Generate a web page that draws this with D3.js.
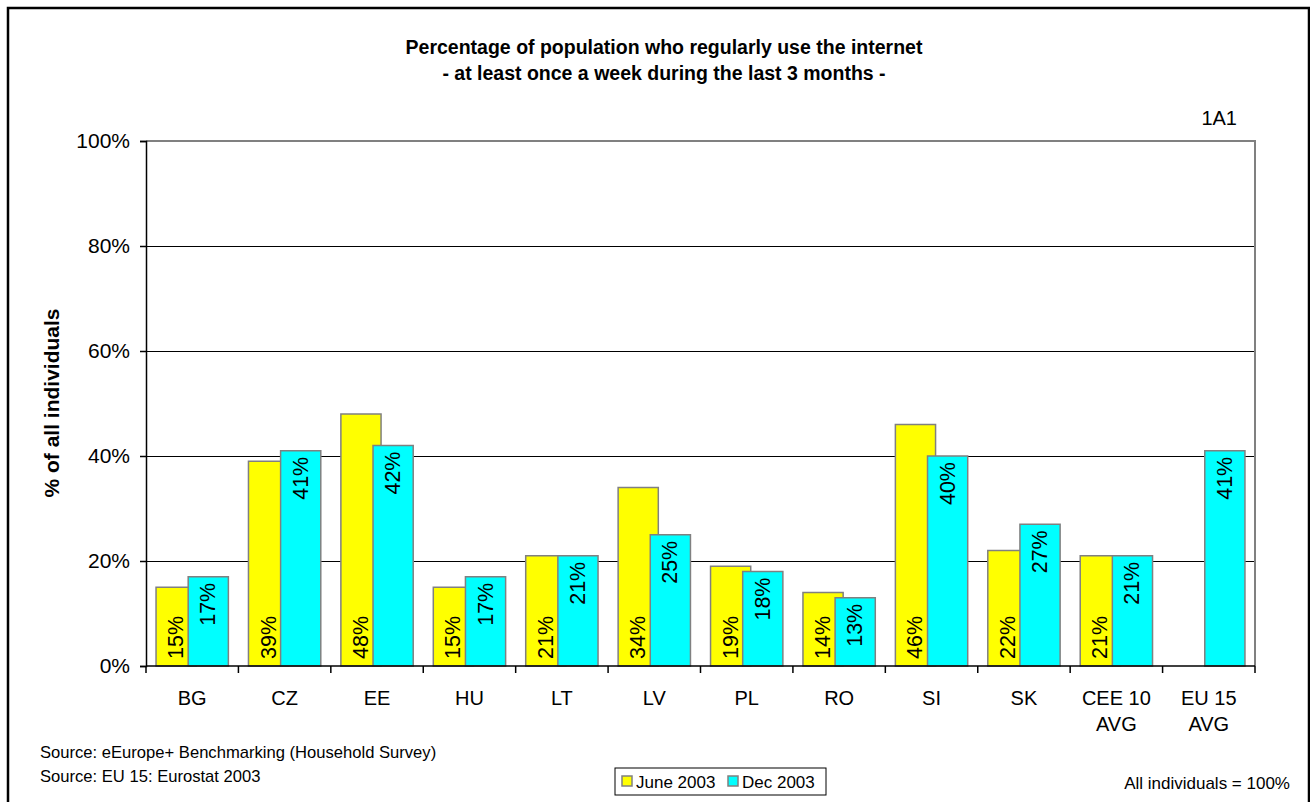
<!DOCTYPE html>
<html>
<head>
<meta charset="utf-8">
<script src="https://cdn.jsdelivr.net/npm/d3@7"></script>
<style>
  html, body { margin: 0; padding: 0; background: #fff; }
  svg { display: block; font-family: "Liberation Sans", Arial, sans-serif; }
</style>
</head>
<body>
<svg id="chart" width="1310" height="802"></svg>
<script>
// Internet usage, share of all individuals (%)
const categories = ["BG", "CZ", "EE", "HU", "LT", "LV", "PL", "RO", "SI", "SK", "CEE 10\nAVG", "EU 15\nAVG"];
const june2003 = [15, 39, 48, 15, 21, 34, 19, 14, 46, 22, 21, null];
const dec2003  = [17, 41, 42, 17, 21, 25, 18, 13, 40, 27, 21, 41];
const seriesNames = ["June 2003", "Dec 2003"];
const seriesColors = ["#ffff00", "#00ffff"];
const yTicks = [0, 20, 40, 60, 80, 100];

const titleLines = [
  "Percentage of population who regularly use the internet",
  "- at least once a week during the last 3 months -"
];
const sourceLines = [
  "Source: eEurope+ Benchmarking (Household Survey)",
  "Source: EU 15: Eurostat 2003"
];

const svg = d3.select("#chart");
const plot = { left: 146, right: 1255, top: 141, bottom: 666 };

// outer frame
svg.append("rect")
  .attr("x", 8).attr("y", 8)
  .attr("width", 1301).attr("height", 820)
  .attr("fill", "#fff").attr("stroke", "#000").attr("stroke-width", 2.5);

// title
svg.append("g").selectAll("text").data(titleLines).join("text")
  .attr("x", 664).attr("y", (d, i) => 54 + i * 26)
  .attr("text-anchor", "middle")
  .attr("font-size", 19.5).attr("font-weight", "bold")
  .text(d => d);

svg.append("text")
  .attr("x", 1237).attr("y", 125)
  .attr("text-anchor", "end").attr("font-size", 20)
  .text("1A1");

const x = d3.scaleBand().domain(categories).range([plot.left, plot.right]).padding(0);
const y = d3.scaleLinear().domain([0, 100]).range([plot.bottom, plot.top]);

// bar geometry: gap width 50%, overlap 20% of a bar
const bw = x.bandwidth() / 2.3;
const barX = (c, s) => x(c) + 0.25 * bw + s * 0.8 * bw;

// gridlines
svg.append("g").selectAll("line").data(yTicks.filter(t => t > 0 && t < 100)).join("line")
  .attr("x1", plot.left).attr("x2", plot.right)
  .attr("y1", d => y(d) + 0.5).attr("y2", d => y(d) + 0.5)
  .attr("stroke", "#000").attr("stroke-width", 1)
  .attr("shape-rendering", "crispEdges");

// plot frame (top and right)
svg.append("path")
  .attr("d", `M${plot.left},${y(100)}H${plot.right}V${plot.bottom}`)
  .attr("fill", "none").attr("stroke", "#808080").attr("stroke-width", 2);

// bars
const series = [june2003, dec2003];
series.forEach((vals, s) => {
  const g = svg.append("g");
  g.selectAll("rect").data(categories.map((c, i) => ({ c, v: vals[i] })).filter(d => d.v != null))
    .join("rect")
    .attr("x", d => barX(d.c, s))
    .attr("y", d => y(d.v))
    .attr("width", bw)
    .attr("height", d => y(0) - y(d.v))
    .attr("fill", seriesColors[s])
    .attr("stroke", "#808080").attr("stroke-width", 1.5);
});

// value labels, rotated: June at the base, Dec at the top
series.forEach((vals, s) => {
  svg.append("g").selectAll("text")
    .data(categories.map((c, i) => ({ c, v: vals[i] })).filter(d => d.v != null))
    .join("text")
    .attr("transform", d => {
      const cx = barX(d.c, s) + bw / 2;
      const cy = s === 0 ? y(0) - 7 : y(d.v) + 6;
      return `translate(${cx},${cy}) rotate(-90)`;
    })
    .attr("text-anchor", s === 0 ? "start" : "end")
    .attr("dominant-baseline", "central")
    .attr("font-size", 21.5)
    .text(d => d.v + "%");
});

// y axis
const yAxis = d3.axisLeft(y).tickValues(yTicks).tickSize(6).tickPadding(10).tickFormat(d => d + "%");
const ya = svg.append("g").attr("transform", `translate(${plot.left},0)`).call(yAxis);
ya.select(".domain").attr("stroke", "#000").attr("stroke-width", 1.5);
ya.selectAll(".tick line").attr("stroke", "#000").attr("stroke-width", 1.5);
ya.selectAll(".tick text").attr("font-size", 21).attr("font-family", "Liberation Sans, Arial, sans-serif").attr("fill", "#000");

// x axis: ticks at category boundaries
const xa = svg.append("g");
xa.append("line")
  .attr("x1", plot.left).attr("x2", plot.right)
  .attr("y1", plot.bottom).attr("y2", plot.bottom)
  .attr("stroke", "#000").attr("stroke-width", 1.5);
const bounds = categories.map(c => x(c)).concat([plot.right]);
xa.selectAll("line.tk").data(bounds).join("line").attr("class", "tk")
  .attr("x1", d => d).attr("x2", d => d)
  .attr("y1", plot.bottom).attr("y2", plot.bottom + 7)
  .attr("stroke", "#000").attr("stroke-width", 1.5);
xa.selectAll("text.cat").data(categories).join("text").attr("class", "cat")
  .attr("x", d => x(d) + x.bandwidth() / 2)
  .attr("y", 705)
  .attr("text-anchor", "middle").attr("font-size", 20)
  .each(function (d) {
    const t = d3.select(this);
    d.split("\n").forEach((line, i) => {
      t.append("tspan").attr("x", x(d) + x.bandwidth() / 2).attr("dy", i === 0 ? 0 : 26).text(line);
    });
  });

// y axis title
svg.append("text")
  .attr("transform", `translate(59,403) rotate(-90)`)
  .attr("text-anchor", "middle")
  .attr("font-size", 21).attr("font-weight", "bold")
  .text("% of all individuals");

// sources
svg.append("g").selectAll("text").data(sourceLines).join("text")
  .attr("x", 40).attr("y", 758).attr("dy", (d, i) => i * 24)
  .attr("font-size", 16.6)
  .text(d => d);

svg.append("text")
  .attr("x", 1290).attr("y", 789)
  .attr("text-anchor", "end").attr("font-size", 17)
  .text("All individuals = 100%");

// legend
const lg = svg.append("g");
lg.append("rect")
  .attr("x", 615).attr("y", 768).attr("width", 211).attr("height", 27)
  .attr("fill", "#fff").attr("stroke", "#000").attr("stroke-width", 1);
const legendX = [622, 728];
seriesNames.forEach((name, i) => {
  lg.append("rect")
    .attr("x", legendX[i]).attr("y", 776).attr("width", 10).attr("height", 10)
    .attr("fill", seriesColors[i]).attr("stroke", "#808080").attr("stroke-width", 1.5);
  lg.append("text")
    .attr("x", legendX[i] + 14).attr("y", 788)
    .attr("font-size", 17)
    .text(name);
});
</script>
</body>
</html>
